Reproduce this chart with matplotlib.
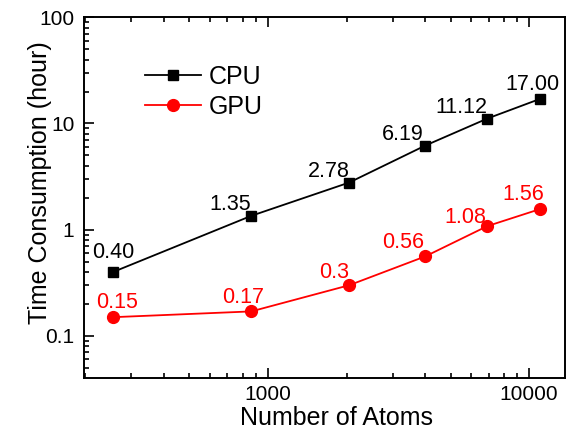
import matplotlib
matplotlib.use("Agg")
import matplotlib.pyplot as plt
from matplotlib.ticker import LogLocator, NullFormatter, FixedLocator, FixedFormatter

plt.rcParams['font.family'] = ['Liberation Sans', 'DejaVu Sans']

atoms = [256, 864, 2048, 4000, 6912, 10976]
cpu = [0.40, 1.35, 2.78, 6.19, 11.12, 17.00]
gpu = [0.15, 0.17, 0.3, 0.56, 1.08, 1.56]
cpu_labels = ["0.40", "1.35", "2.78", "6.19", "11.12", "17.00"]
gpu_labels = ["0.15", "0.17", "0.3", "0.56", "1.08", "1.56"]
xticks = [1000, 10000]
yticks = [0.1, 1, 10, 100]
ytick_labels = ["0.1", "1", "10", "100"]

fig = plt.figure(figsize=(5.68, 4.32), dpi=100)
ax = fig.add_axes([0.148, 0.126, 0.847, 0.834])

ax.plot(atoms, cpu, color='black', marker='s', markersize=7.5, linewidth=1.3, label='CPU')
ax.plot(atoms, gpu, color='red', marker='o', markersize=8.5, linewidth=1.3, label='GPU')

ax.set_xscale('log')
ax.set_yscale('log')
ax.set_xlim(198, 13730)
ax.set_ylim(0.0405, 100)

# annotation offsets in points (dx, dy)
cpu_off = [(0, 14), (-15, 8), (-15, 8), (-16, 8), (-19, 8), (-5, 10.5)]
gpu_off = [(3, 10.5), (-6, 10), (-11, 9), (-16, 10), (-16, 6), (-12, 10.5)]
for x, y, t, o in zip(atoms, cpu, cpu_labels, cpu_off):
    ax.annotate(t, (x, y), xytext=o, textcoords='offset points', ha='center', va='center',
                fontsize=15.5, color='black')
for x, y, t, o in zip(atoms, gpu, gpu_labels, gpu_off):
    ax.annotate(t, (x, y), xytext=o, textcoords='offset points', ha='center', va='center',
                fontsize=15.5, color='red')

ax.xaxis.set_major_locator(FixedLocator(xticks))
ax.xaxis.set_major_formatter(FixedFormatter([str(v) for v in xticks]))
ax.xaxis.set_minor_locator(LogLocator(base=10, subs=range(2, 10), numticks=20))
ax.xaxis.set_minor_formatter(NullFormatter())
ax.yaxis.set_major_locator(FixedLocator(yticks))
ax.yaxis.set_major_formatter(FixedFormatter(ytick_labels))
ax.yaxis.set_minor_locator(LogLocator(base=10, subs=range(2, 10), numticks=20))
ax.yaxis.set_minor_formatter(NullFormatter())

ax.tick_params(which='both', direction='in', labelsize=15, width=1.2)
ax.tick_params(which='major', length=7)
ax.tick_params(which='minor', length=3.5)
ax.tick_params(axis='x', which='both', top=True, pad=5)
ax.tick_params(axis='x', which='both', labeltop=False)
ax.tick_params(axis='y', pad=7)
for s in ax.spines.values():
    s.set_linewidth(1.4)

ax.set_xlabel('Number of Atoms', fontsize=18)
ax.set_ylabel('Time Consumption (hour)', fontsize=18)
ax.xaxis.set_label_coords(0.524, -0.08)
ax.yaxis.set_label_coords(-0.067, 0.54)

ax.legend(loc='upper left', bbox_to_anchor=(0.127, 0.868), frameon=False, fontsize=18,
          handlelength=2.24, handletextpad=0.3, labelspacing=0.25, borderaxespad=0,
          borderpad=0)

fig.savefig('out.png', dpi=100)
